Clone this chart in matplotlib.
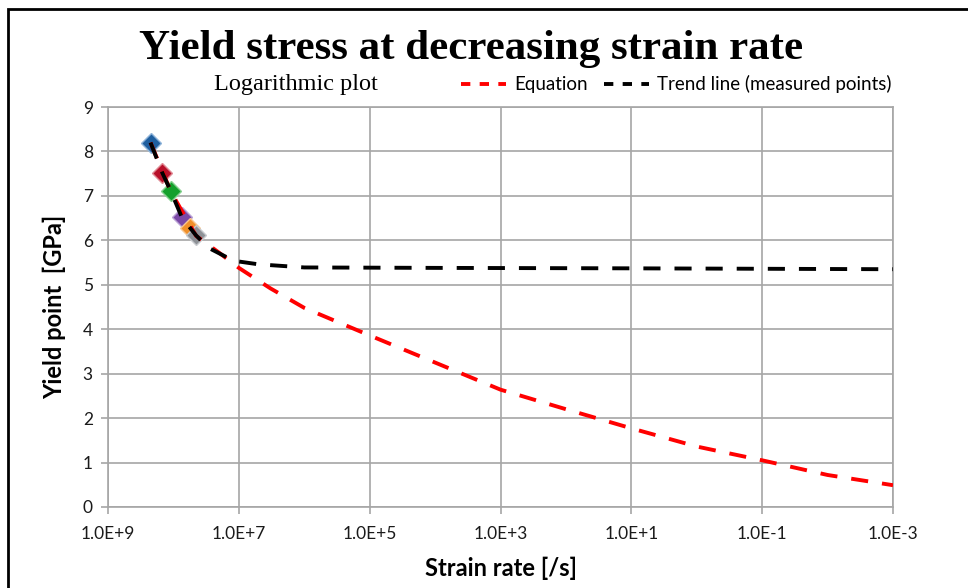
import numpy as np
import matplotlib.pyplot as plt
from matplotlib.patches import Rectangle
from matplotlib.lines import Line2D

# measured points (strain rate [/s], yield point [GPa])
pt_rate = [2.24e8, 1.48e8, 1.1e8, 7.5e7, 5.5e7, 4.5e7]
pt_gpa = [8.2, 7.52, 7.11, 6.53, 6.27, 6.11]
pt_colors = ['#1F5F9F', '#B8102A', '#14A02C', '#7A48A6', '#F0902A', '#8E9297']
pt_edges = ['#8FB4DA', '#E08A94', '#86D08F', '#BBA3D6', '#F8C68F', '#C8CBCF']

# equation curve
eq_rate = [2.24e8, 1.1e8, 4.5e7, 2e7, 1e7, 3.3e6, 1e6, 1e5, 1e4, 1e3, 1e2, 1e1, 1e0, 1e-1, 1e-2, 1e-3]
eq_gpa = [8.2, 7.1, 6.1, 5.72, 5.38, 4.92, 4.48, 3.86, 3.25, 2.64, 2.2, 1.77, 1.36, 1.05, 0.72, 0.49]

# trend line through measured points
tr_rate = [2.24e8, 1.48e8, 1.1e8, 7.5e7, 5.5e7, 4.5e7, 2.9e7, 1.2e7, 5e6, 1e6, 1e4, 1e1, 1e-3]
tr_gpa = [8.2, 7.52, 7.11, 6.53, 6.27, 6.11, 5.83, 5.54, 5.46, 5.39, 5.38, 5.37, 5.35]

xticks = [1e9, 1e7, 1e5, 1e3, 1e1, 1e-1, 1e-3]
xticklabels = ['1.0E+9', '1.0E+7', '1.0E+5', '1.0E+3', '1.0E+1', '1.0E-1', '1.0E-3']

fig = plt.figure(figsize=(9.68, 5.88), dpi=100)
ax = fig.add_axes([0.1116, 0.1378, 0.8109, 0.6802])

# chart border (cut off at right and bottom)
fig.patches.append(Rectangle((0.0083, -0.2), 1.5, 0.9847 + 0.2, transform=fig.transFigure,
                             fill=False, edgecolor='black', linewidth=2.0))

for r, g, c, e in zip(pt_rate, pt_gpa, pt_colors, pt_edges):
    ax.plot(r, g, marker='D', markersize=10.5, markerfacecolor=c, markeredgecolor=e,
            markeredgewidth=1.0, linestyle='none', zorder=3)

ax.plot(eq_rate, eq_gpa, color='#FF0000', linewidth=2.8, dashes=(4.4, 3.6), zorder=4)
ax.plot(tr_rate, tr_gpa, color='black', linewidth=2.8, dashes=(4.4, 3.6), zorder=5)

ax.set_xscale('log')
ax.set_xlim(1e9, 1e-3)
ax.set_ylim(0, 9)
ax.set_xticks(xticks)
ax.set_xticklabels(xticklabels)
ax.xaxis.set_minor_locator(plt.NullLocator())
ax.set_yticks(range(0, 10))
ax.grid(True, color='#A6A6A6', linewidth=1.2)
ax.set_axisbelow(True)
for s in ax.spines.values():
    s.set_color('#A6A6A6')
    s.set_linewidth(1.2)
ax.tick_params(axis='both', length=5, width=1.2, color='#A6A6A6', labelsize=12.5,
               labelcolor='#1A1A1A', pad=6)
for lab in ax.get_xticklabels() + ax.get_yticklabels():
    lab.set_family('Lato')
ax.tick_params(axis='x', pad=9)

ax.set_xlabel('Strain rate [/s]', fontsize=17, fontweight='bold', family='Lato', labelpad=10)
ax.set_ylabel('Yield point  [GPa]', fontsize=17, fontweight='bold', family='Lato', labelpad=12)

fig.text(0.487, 0.917, 'Yield stress at decreasing strain rate', ha='center', va='center',
         fontsize=31, fontweight='bold', family='Liberation Serif')
fig.text(0.306, 0.857, 'Logarithmic plot', ha='center', va='center',
         fontsize=17.5, family='Liberation Serif')

handles = [Line2D([], [], color='#FF0000', linewidth=2.8, dashes=(2.4, 2.4)),
           Line2D([], [], color='black', linewidth=2.8, dashes=(2.4, 2.4))]
fig.legend(handles, ['Equation', 'Trend line (measured points)'], ncol=2,
           loc='center right', bbox_to_anchor=(0.929, 0.857), frameon=False,
           prop={'family': 'Lato', 'size': 13.5}, handlelength=2.4, handletextpad=0.45,
           columnspacing=0.85, borderaxespad=0)

fig.savefig('out.png', dpi=100)
